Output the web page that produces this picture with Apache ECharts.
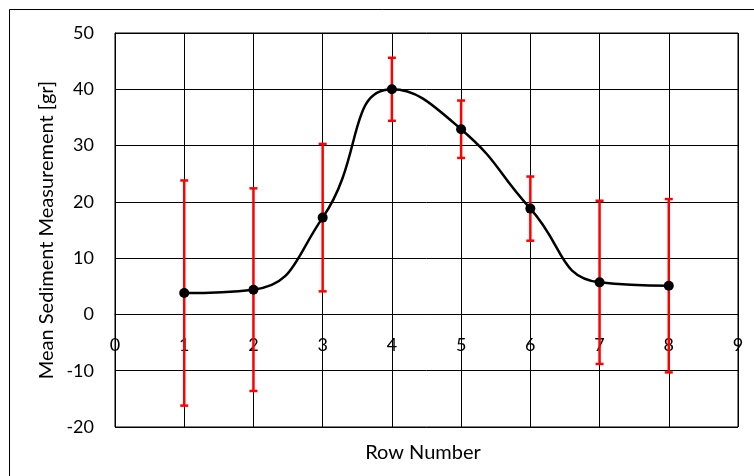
<!DOCTYPE html>
<html>
<head>
<meta charset="utf-8">
<script src="https://cdn.jsdelivr.net/npm/echarts@6/dist/echarts.min.js"></script>
<style>
html, body { margin: 0; padding: 0; background: #fff; }
#main { width: 754px; height: 476px; }
</style>
</head>
<body>
<div id="main"></div>
<script>
var rows = [1, 2, 3, 4, 5, 6, 7, 8];
var means = [3.8, 4.4, 17.2, 40.0, 32.9, 18.8, 5.7, 5.1];
var errs = [20.0, 18.0, 13.1, 5.6, 5.1, 5.7, 14.5, 15.4];
var xTicks = [0, 9, 1];      // min, max, step
var yTicks = [-20, 50, 10];

var chart = echarts.init(document.getElementById('main'));

var lineData = [];
var barData = [];
for (var i = 0; i < rows.length; i++) {
    lineData.push([rows[i], means[i]]);
    barData.push([rows[i], means[i] - errs[i], means[i] + errs[i]]);
}

var font = 'Lato';
var plotH = 394;
// x axis crosses y at 0 (like excel), so push it up from the bottom edge
var zeroOffset = -plotH * (0 - yTicks[0]) / (yTicks[1] - yTicks[0]);

chart.setOption({
    backgroundColor: '#fff',
    animation: false,
    grid: {
        left: 115,
        top: 33,
        width: 623,
        height: plotH,
        show: true,
        borderColor: '#000',
        borderWidth: 1
    },
    xAxis: {
        type: 'value',
        min: xTicks[0],
        max: xTicks[1],
        interval: xTicks[2],
        offset: zeroOffset,
        axisLine: { show: true, onZero: false, lineStyle: { color: '#000', width: 1 } },
        axisTick: { show: false },
        axisLabel: { color: '#000', fontSize: 18, fontFamily: font, margin: 22 },
        splitLine: { show: true, lineStyle: { color: '#000', width: 1 } }
    },
    yAxis: {
        type: 'value',
        min: yTicks[0],
        max: yTicks[1],
        interval: yTicks[2],
        axisLine: { show: true, onZero: false, lineStyle: { color: '#000' } },
        axisTick: { show: false },
        axisLabel: { color: '#000', fontSize: 18, fontFamily: font, margin: 21 },
        splitLine: { show: true, lineStyle: { color: '#000', width: 1 } }
    },
    graphic: [
        {
            type: 'rect',
            shape: { x: 9.5, y: 9.5, width: 800, height: 600 },
            style: { fill: 'none', stroke: '#000', lineWidth: 1 },
            silent: true
        },
        {
            type: 'text',
            x: 47,
            y: 230,
            rotation: Math.PI / 2,
            style: {
                text: 'Mean Sediment Measurement [gr]',
                fill: '#000',
                font: '20px ' + font,
                align: 'center',
                verticalAlign: 'middle'
            }
        },
        {
            type: 'text',
            x: 423,
            y: 453,
            style: {
                text: 'Row Number',
                fill: '#000',
                font: '20px ' + font,
                align: 'center',
                verticalAlign: 'middle'
            }
        }
    ],
    series: [
        {
            type: 'custom',
            name: 'error',
            z: 2,
            data: barData,
            renderItem: function (params, api) {
                var top = api.coord([api.value(0), api.value(2)]);
                var bot = api.coord([api.value(0), api.value(1)]);
                var cap = 4;
                var st = { stroke: '#ff0000', lineWidth: 2.5 };
                return {
                    type: 'group',
                    children: [
                        { type: 'line', shape: { x1: top[0], y1: top[1], x2: bot[0], y2: bot[1] }, style: st },
                        { type: 'line', shape: { x1: top[0] - cap, y1: top[1], x2: top[0] + cap, y2: top[1] }, style: st },
                        { type: 'line', shape: { x1: bot[0] - cap, y1: bot[1], x2: bot[0] + cap, y2: bot[1] }, style: st }
                    ]
                };
            }
        },
        {
            type: 'line',
            name: 'mean',
            z: 3,
            data: lineData,
            smooth: 0.5,
            symbol: 'circle',
            symbolSize: 10,
            itemStyle: { color: '#000' },
            lineStyle: { color: '#000', width: 2.5 }
        }
    ]
});
</script>
</body>
</html>
